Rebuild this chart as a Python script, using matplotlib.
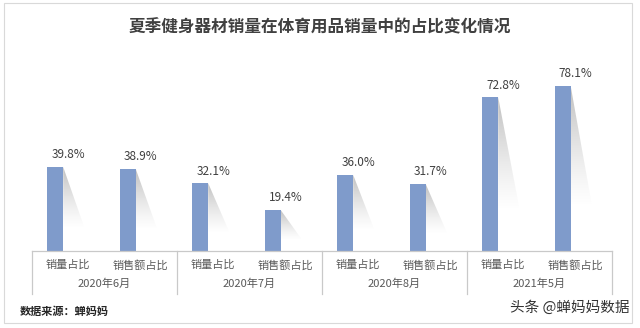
import matplotlib
matplotlib.use("Agg")
import matplotlib.pyplot as plt
import numpy as np
from matplotlib.patches import Polygon, Rectangle

plt.rcParams['font.family'] = ['Noto Sans CJK SC', 'DejaVu Sans']

title = "夏季健身器材销量在体育用品销量中的占比变化情况"
groups = ["2020年6月", "2020年7月", "2020年8月", "2021年5月"]
categories = ["销量占比", "销售额占比"]
values = [39.8, 38.9, 32.1, 19.4, 36.0, 31.7, 72.8, 78.1]
source = "数据来源：蝉妈妈"
watermark = "头条 @蝉妈妈数据"

W, H = 640, 328
fig = plt.figure(figsize=(6.4, 3.28), dpi=100)
fig.patch.set_facecolor("white")

# outer border
fig.add_artist(Rectangle((4 / W, 1 - 323 / H), 628 / W, 320 / H, transform=fig.transFigure,
                         fill=False, edgecolor="#d9d9d9", linewidth=0.8))

ax_left, ax_right = 32 / W, 612 / W
base_y = 251
px_per_unit = 2.113
ymax = 100
ax_h = ymax * px_per_unit
ax = fig.add_axes([ax_left, (H - base_y) / H, ax_right - ax_left, ax_h / H])
ax.set_xlim(0, 8)
ax.set_ylim(0, ymax)
ax.axis("off")

bar_color = "#7f9bcb"
offset = -0.18
bw = 0.22
n = len(values)
xs = np.arange(n) + 0.5

# gradient image for shadow
grad = np.zeros((100, 2, 4))
grad[..., :3] = 0.5
grad[..., 3] = (np.linspace(0.0, 1.0, 100) ** 1.3 * 0.5)[:, None]

for i, v in enumerate(values):
    bc = xs[i] + offset
    xr = bc + bw / 2
    # shadow wedge
    tri = Polygon([(xr, v), (xr + 0.30, 0.26 * v), (xr, 0.26 * v)], closed=True,
                  facecolor="none", edgecolor="none", transform=ax.transData)
    ax.add_patch(tri)
    im = ax.imshow(grad, extent=(xr, xr + 0.30, 0.26 * v, v), origin="lower",
                   aspect="auto", zorder=1, interpolation="bilinear")
    im.set_clip_path(tri)
    ax.bar(bc, v, width=bw, color=bar_color, zorder=2)
    ax.text(xs[i], v + 5.7, f"{v:.1f}%", ha="center", va="center",
            fontsize=8.5, color="#404040", zorder=3)

ax.set_xlim(0, 8)
ax.set_ylim(0, ymax)

line_c = "#c9c9c9"
ax.plot([0, 8], [0, 0], color=line_c, lw=0.9, clip_on=False, zorder=3)
sep_bottom = -43 / px_per_unit
for g in range(len(groups) + 1):
    ax.plot([2 * g, 2 * g], [0, sep_bottom], color=line_c, lw=0.9, clip_on=False)

for i in range(n):
    ax.text(xs[i], -14 / px_per_unit, categories[i % 2], ha="center", va="center",
            fontsize=8, color="#595959", clip_on=False)
for g, name in enumerate(groups):
    ax.text(2 * g + 1, -33 / px_per_unit, name, ha="center", va="center",
            fontsize=8, color="#595959", clip_on=False)

fig.text(320 / W, 1 - 27 / H, title, ha="center", va="center", fontsize=12,
         fontweight="bold", color="#404040")
fig.text(20 / W, 1 - 311 / H, source, ha="left", va="center", fontsize=8,
         fontweight="bold", color="#262626")
fig.text(630 / W, 1 - 308 / H, watermark, ha="right", va="center", fontsize=10.5,
         color="#333333")

fig.savefig("out.png", dpi=100, facecolor="white")
